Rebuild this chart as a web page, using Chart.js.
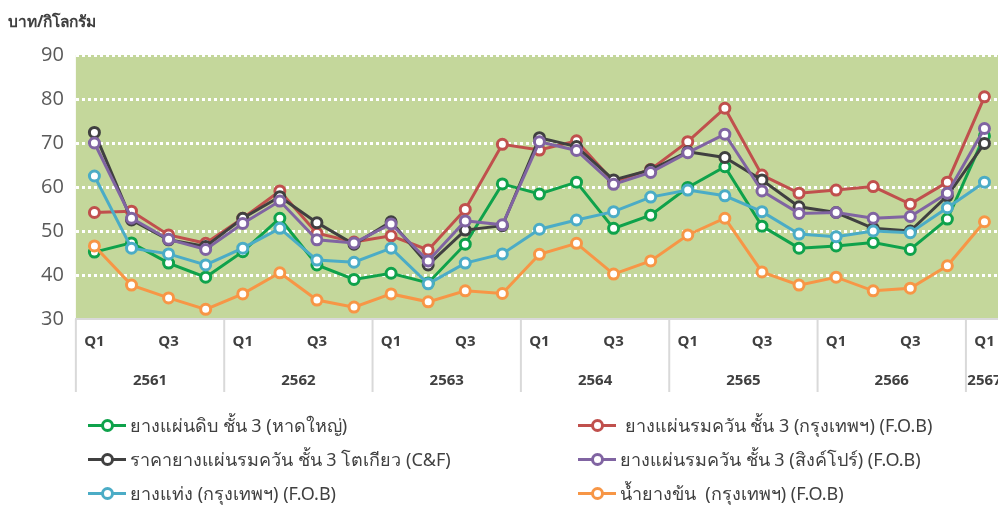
<!DOCTYPE html>
<html>
<head>
<meta charset="utf-8">
<script src="https://cdn.jsdelivr.net/npm/chart.js@4/dist/chart.umd.min.js"></script>
<style>
  body { margin: 0; overflow: hidden; background: #fff; font-family: "Noto Sans", sans-serif; }
  #wrap { position: relative; width: 1011px; height: 507px; }
  #unit { position: absolute; left: 8px; top: 9px; font-size: 15.5px; font-weight: bold; color: #404040; }
  #legend { position: absolute; left: 88px; top: 413px; width: 900px; display: grid;
            grid-template-columns: 490px 400px; row-gap: 9px; font-size: 18px; color: #404040; }
  .item { display: flex; align-items: center; height: 25px; white-space: pre; }
  .mark { position: relative; width: 38px; height: 3px; margin-right: 4px; }
  .mark span { position: absolute; left: 13px; top: -5px; width: 7px; height: 7px; border-radius: 50%;
               background: #fff; border: 3px solid; }
</style>
</head>
<body>
<div id="wrap">
  <canvas id="myChart" width="1011" height="507"></canvas>
  <div id="unit">บาท/กิโลกรัม</div>
  <div id="legend"></div>
</div>
<script>
// quarters 2561 Q1 .. 2567 Q1
const years = ["2561", "2562", "2563", "2564", "2565", "2566", "2567"];
const quarters = [];
years.forEach((y) => {
  ["Q1", "Q2", "Q3", "Q4"].forEach((q) => {
    if (y !== "2567" || q === "Q1") quarters.push(q);
  });
});

const rawSheet = [45.2, 47.3, 42.7, 39.5, 45.3, 52.9, 42.3, 39.0, 40.4, 38.2, 47.0, 60.7, 58.4, 61.1, 50.6, 53.6, 59.9, 64.6, 51.1, 46.1, 46.6, 47.4, 45.8, 52.7, 71.6];
const rssBangkok = [54.2, 54.5, 49.1, 47.2, 52.9, 59.1, 49.5, 47.5, 48.9, 45.7, 54.9, 69.7, 68.4, 70.5, 61.2, 64.0, 70.3, 77.9, 62.7, 58.6, 59.3, 60.1, 56.1, 61.1, 80.5];
const rssTokyo = [72.4, 52.5, 48.0, 46.5, 52.9, 57.8, 51.9, 47.0, 52.1, 42.3, 50.2, 51.2, 71.2, 69.2, 61.6, 63.9, 68.0, 66.7, 61.6, 55.5, 54.2, 50.6, 50.0, 58.0, 69.9];
const rssSingapore = [70.0, 52.9, 48.1, 45.8, 51.7, 56.8, 48.0, 47.3, 51.6, 43.2, 52.3, 51.4, 70.3, 68.3, 60.6, 63.3, 67.8, 72.0, 59.1, 54.0, 54.2, 52.9, 53.3, 58.6, 73.3];
const blockRubber = [62.5, 46.1, 44.8, 42.3, 46.1, 50.6, 43.4, 42.9, 46.1, 38.0, 42.7, 44.8, 50.4, 52.5, 54.4, 57.7, 59.3, 58.0, 54.4, 49.3, 48.7, 50.0, 49.6, 55.3, 61.1];
const latex = [46.6, 37.7, 34.8, 32.2, 35.7, 40.5, 34.3, 32.7, 35.7, 33.9, 36.4, 35.8, 44.7, 47.2, 40.2, 43.2, 49.1, 52.9, 40.7, 37.7, 39.5, 36.4, 37.0, 42.1, 52.1];

const yTicks = [30, 40, 50, 60, 70, 80, 90];

const series = [
  { label: "ยางแผ่นดิบ ชั้น 3 (หาดใหญ่)", data: rawSheet, color: "#0fa24b" },
  { label: " ยางแผ่นรมควัน ชั้น 3 (กรุงเทพฯ) (F.O.B)", data: rssBangkok, color: "#c0504d" },
  { label: "ราคายางแผ่นรมควัน ชั้น 3 โตเกียว (C&F)", data: rssTokyo, color: "#404040" },
  { label: "ยางแผ่นรมควัน ชั้น 3 (สิงค์โปร์) (F.O.B)", data: rssSingapore, color: "#8064a2" },
  { label: "ยางแท่ง (กรุงเทพฯ) (F.O.B)", data: blockRubber, color: "#4bacc6" },
  { label: "น้ำยางข้น  (กรุงเทพฯ) (F.O.B)", data: latex, color: "#f79646" },
];

// drawing order: orange at the back, purple on top
const drawOrder = [4, 5, 2, 1, 0, 3];

const plotBg = {
  id: "plotBg",
  beforeDraw: (chart) => {
    const { ctx, chartArea } = chart;
    ctx.save();
    ctx.fillStyle = "#c4d79b";
    ctx.fillRect(chartArea.left, chartArea.top, chartArea.right - chartArea.left, chartArea.bottom - chartArea.top);
    ctx.restore();
  },
};

const yearAxis = {
  id: "yearAxis",
  afterDraw: (chart) => {
    const { ctx, chartArea } = chart;
    const x = chart.scales.x;
    const step = x.getPixelForValue(1) - x.getPixelForValue(0);
    ctx.save();
    ctx.strokeStyle = "#d9d9d9";
    ctx.lineWidth = 2;
    ctx.fillStyle = "#404040";
    ctx.font = "bold 15px 'Open Sans', 'Noto Sans', sans-serif";
    ctx.textAlign = "center";
    ctx.textBaseline = "middle";
    years.forEach((y, i) => {
      const first = i * 4;
      const last = Math.min(first + 3, quarters.length - 1);
      const left = x.getPixelForValue(first) - step / 2;
      ctx.beginPath();
      ctx.moveTo(left, chartArea.bottom);
      ctx.lineTo(left, chartArea.bottom + 73);
      ctx.stroke();
      const mid = (x.getPixelForValue(first) + x.getPixelForValue(last)) / 2;
      ctx.fillText(y, mid, chartArea.bottom + 62);
    });
    ctx.restore();
  },
};

const ctx = document.getElementById("myChart").getContext("2d");
const chart = new Chart(ctx, {
  type: "line",
  data: {
    labels: quarters,
    datasets: series.map((s, i) => ({
      label: s.label,
      data: s.data,
      borderColor: s.color,
      backgroundColor: "#ffffff",
      pointBorderColor: s.color,
      pointBackgroundColor: "#ffffff",
      borderWidth: 3,
      pointRadius: 5,
      pointBorderWidth: 3,
      pointHoverRadius: 5,
      tension: 0,
      order: drawOrder[i],
    })),
  },
  plugins: [plotBg, yearAxis],
  options: {
    responsive: false,
    animation: false,
    layout: { padding: { left: 29, top: 55, right: 1, bottom: 0 } },
    plugins: {
      legend: { display: false },
      tooltip: { enabled: false },
    },
    scales: {
      x: {
        offset: true,
        grid: { display: false, drawTicks: false },
        border: { display: true, color: "#d9d9d9", width: 2 },
        ticks: {
          autoSkip: false,
          maxRotation: 0,
          padding: 14,
          color: "#404040",
          font: { size: 15, weight: "bold", family: "'Open Sans', 'Noto Sans', sans-serif" },
          callback: (v, i) => (quarters[i] === "Q1" || quarters[i] === "Q3" ? quarters[i] : ""),
        },
        afterFit: (scale) => {
          scale.height = 188;
        },
      },
      y: {
        min: yTicks[0],
        max: yTicks[yTicks.length - 1],
        afterBuildTicks: (scale) => {
          scale.ticks = yTicks.map((v) => ({ value: v }));
        },
        grid: {
          drawTicks: false,
          lineWidth: 3,
          color: (c) => (c.tick && c.tick.value === 30 ? "rgba(0,0,0,0)" : "#ffffff"),
        },
        border: { display: false, dash: [3, 3] },
        ticks: {
          padding: 12,
          color: "#595959",
          font: { size: 20, family: "'Open Sans', 'Noto Sans', sans-serif" },
        },
      },
    },
  },
});

// HTML legend, two columns like the original
const legendEl = document.getElementById("legend");
series.forEach((s) => {
  const item = document.createElement("div");
  item.className = "item";
  const mark = document.createElement("div");
  mark.className = "mark";
  mark.style.background = s.color;
  const dot = document.createElement("span");
  dot.style.borderColor = s.color;
  mark.appendChild(dot);
  item.appendChild(mark);
  item.appendChild(document.createTextNode(s.label));
  legendEl.appendChild(item);
});
</script>
</body>
</html>
